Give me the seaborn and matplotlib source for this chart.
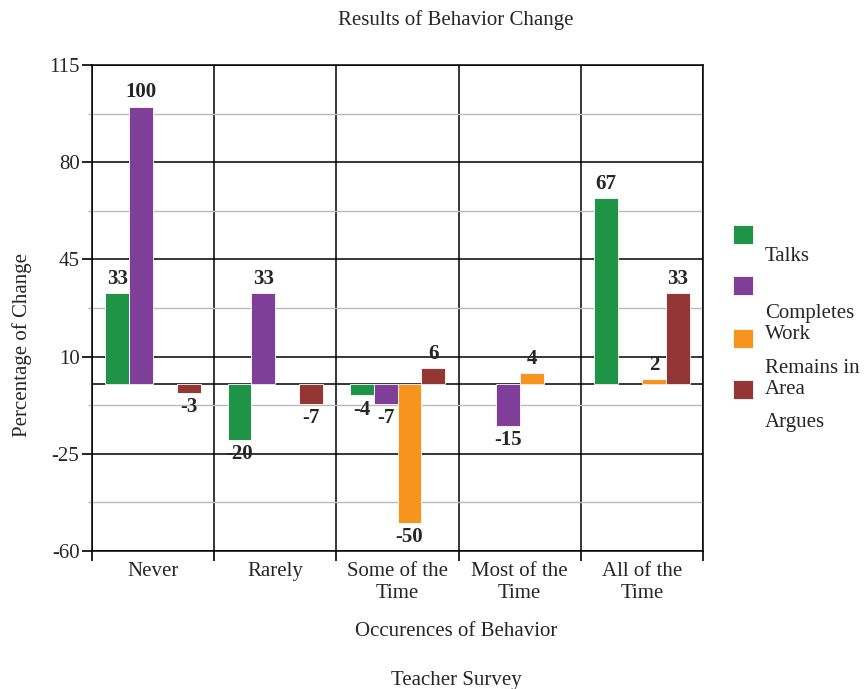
import numpy as np
import pandas as pd
import matplotlib
matplotlib.use("Agg")
import matplotlib.pyplot as plt
from matplotlib.patches import Rectangle
import seaborn as sns

categories = ["Never", "Rarely", "Some of the\nTime", "Most of the\nTime", "All of the\nTime"]
series = ["Talks", "Completes Work", "Remains in Area", "Argues"]
legend_labels = ["Talks", "Completes\nWork", "Remains in\nArea", "Argues"]
talks = [33, -20, -4, np.nan, 67]
completes = [100, 33, -7, -15, np.nan]
remains = [np.nan, np.nan, -50, 4, 2]
argues = [-3, -7, 6, np.nan, 33]
colors = ["#1f9447", "#7f3f98", "#f7941d", "#943634"]
yticks = [-60, -25, 10, 45, 80, 115]

rows = []
for s, vals in zip(series, [talks, completes, remains, argues]):
    for c, v in zip(categories, vals):
        rows.append({"cat": c, "series": s, "value": v})
df = pd.DataFrame(rows)

sns.set_style("white")
plt.rcParams["font.family"] = ["Liberation Serif", "DejaVu Serif"]
plt.rcParams["axes.unicode_minus"] = False

FS = 15

fig = plt.figure(figsize=(8.65, 6.89), dpi=100)
ax = fig.add_axes([92/865, 1-551/689, (703-92)/865, (551-65)/689])

sns.barplot(data=df, x="cat", y="value", hue="series", order=categories,
            hue_order=series, palette=colors, saturation=1, width=0.78, ax=ax,
            edgecolor="white", linewidth=0.6, errorbar=None, legend=False,
            zorder=3)

for cont in ax.containers:
    labs = [f"{p.get_height():.0f}" for p in cont]
    ax.bar_label(cont, labels=labs, padding=3, fontsize=FS, fontweight="bold")

ax.set_ylim(-60, 115)
ax.set_xlim(-0.5, 4.5)
ax.set_yticks(yticks)
ax.set_yticks([-42.5, -7.5, 27.5, 62.5, 97.5], minor=True)
ax.set_xticks(range(5))
ax.set_xticklabels(categories, fontsize=FS, linespacing=1.2)
ax.set_xticks([-0.5, 0.5, 1.5, 2.5, 3.5, 4.5], minor=True)
ax.tick_params(bottom=True, left=True, which="both")
ax.tick_params(axis="x", which="major", length=0, pad=8)
ax.tick_params(axis="x", which="minor", length=7, width=1.2, color="black", direction="out")
ax.tick_params(axis="y", which="major", length=7, width=1.2, color="black", labelsize=FS, pad=2, direction="out")
ax.tick_params(axis="y", which="minor", length=3, width=1.0, color="#bbbbbb", direction="out")
ax.grid(axis="y", which="major", color="black", linewidth=1.1, zorder=1)
ax.grid(axis="y", which="minor", color="#bbbbbb", linewidth=1.0, zorder=1)
ax.grid(axis="x", which="minor", color="black", linewidth=1.1, zorder=1)
ax.set_axisbelow(True)
ax.axhline(0, color="black", linewidth=1.1, zorder=2)
for sp in ax.spines.values():
    sp.set_visible(True)
    sp.set_color("black")
    sp.set_linewidth(1.1)
ax.set_xlabel("")
ax.set_ylabel("")

fig.text(456/865, 1-20/689, "Results of Behavior Change", ha="center", va="center", fontsize=FS)
fig.text(456/865, 1-631/689, "Occurences of Behavior", ha="center", va="center", fontsize=FS)
fig.text(456/865, 1-680/689, "Teacher Survey", ha="center", va="center", fontsize=FS)
fig.text(22/865, 1-345/689, "Percentage of Change", ha="center", va="center", rotation=90, fontsize=FS)

patch_tops = [225, 276, 329, 380]
text_ys = [256, 324, 379, 423]
for col, lab, pt, ty in zip(colors, legend_labels, patch_tops, text_ys):
    fig.add_artist(Rectangle((733/865, 1-(pt+19)/689), 20/865, 19/689,
                             transform=fig.transFigure, facecolor=col, edgecolor="white", lw=0.6))
    fig.text(765/865, 1-ty/689, lab, ha="left", va="center", fontsize=FS, linespacing=1.15)

fig.savefig("out.png", dpi=100)
